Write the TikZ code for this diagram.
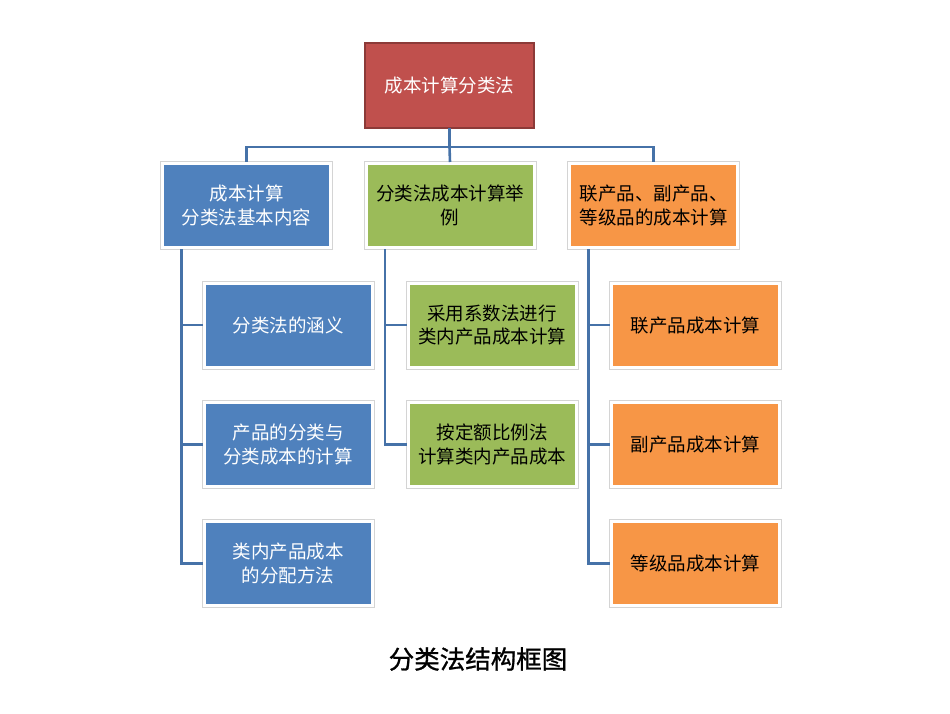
\documentclass[tikz,border=0pt]{standalone}
\usepackage{fontspec}
\setmainfont{Noto Sans CJK SC}
\newfontfamily\capfont{Noto Sans CJK SC}[AutoFakeBold=1.0]
\usetikzlibrary{calc}
\definecolor{cred}{HTML}{C0504D}
\definecolor{credb}{HTML}{8C3A38}
\definecolor{cblue}{HTML}{4F81BD}
\definecolor{cgreen}{HTML}{9BBB59}
\definecolor{corange}{HTML}{F79646}
\definecolor{lineblue}{HTML}{4672A8}
\begin{document}
\begin{tikzpicture}[x=1pt,y=-1pt,
  box/.style={rectangle, minimum width=168pt, minimum height=84pt, inner sep=0pt, outer sep=0pt,
    draw=white, line width=3pt, align=center, font=\fontsize{18.5}{23.5}\selectfont,
    preaction={draw=black!17, line width=5pt}},
  bluebox/.style={box, fill=cblue, text=white},
  greenbox/.style={box, fill=cgreen, text=black},
  orangebox/.style={box, fill=corange, text=black},
  rootbox/.style={rectangle, minimum width=169pt, minimum height=85pt, inner sep=0pt, outer sep=0pt,
    draw=credb, line width=2pt, fill=cred, text=white, align=center, font=\fontsize{18.5}{23.5}\selectfont},
  conn/.style={draw=lineblue, line width=2.6pt}]
\useasboundingbox (0,0) rectangle (950,713);
\fill[white] (0,0) rectangle (950,713);

\node[rootbox] (root) at (449.5,85.5) {成本计算分类法};

\node[bluebox] (b1) at (246.5,205.5) {成本计算\\分类法基本内容};
\node[greenbox] (g1) at (450,205.5) {分类法成本计算举\\例};
\node[orangebox] (o1) at (653.5,205.5) {联产品、副产品、\\等级品的成本计算};

\node[bluebox] (b2) at (288,325) {分类法的涵义};
\node[bluebox] (b3) at (288,444.5) {产品的分类与\\分类成本的计算};
\node[bluebox] (b4) at (288,563.5) {类内产品成本\\的分配方法};

\node[greenbox] (g2) at (492,325) {采用系数法进行\\类内产品成本计算};
\node[greenbox] (g3) at (492,444.5) {按定额比例法\\计算类内产品成本};

\node[orangebox] (o2) at (695.5,325) {联产品成本计算};
\node[orangebox] (o3) at (695.5,444.5) {副产品成本计算};
\node[orangebox] (o4) at (695.5,563.5) {等级品成本计算};

\coordinate (hub) at (449.5,147);
\draw[conn] (root.south) -- (hub);
\draw[conn] (hub) -| ($(b1.north)+(0,-1.5)$);
\draw[conn] (hub) -| ($(o1.north)+(0,-1.5)$);
\draw[conn] (hub) -- ($(g1.north)+(0,-1.5)$);

\coordinate (bt) at ($(b1.south west)+(19,1.5)$);
\coordinate (gt) at ($(g1.south west)+(19,1.5)$);
\coordinate (ot) at ($(o1.south west)+(19,1.5)$);
\draw[conn] (bt) |- ($(b4.west)+(-1.5,0)$);
\draw[conn] (bt |- b2.west) -- ($(b2.west)+(-1.5,0)$);
\draw[conn] (bt |- b3.west) -- ($(b3.west)+(-1.5,0)$);
\draw[conn] (gt) |- ($(g3.west)+(-1.5,0)$);
\draw[conn] (gt |- g2.west) -- ($(g2.west)+(-1.5,0)$);
\draw[conn] (ot) |- ($(o4.west)+(-1.5,0)$);
\draw[conn] (ot |- o2.west) -- ($(o2.west)+(-1.5,0)$);
\draw[conn] (ot |- o3.west) -- ($(o3.west)+(-1.5,0)$);

\node[font=\capfont\bfseries\fontsize{25.5}{30}\selectfont, text=black] (cap) at (478,659) {分类法结构框图};
\end{tikzpicture}
\end{document}
